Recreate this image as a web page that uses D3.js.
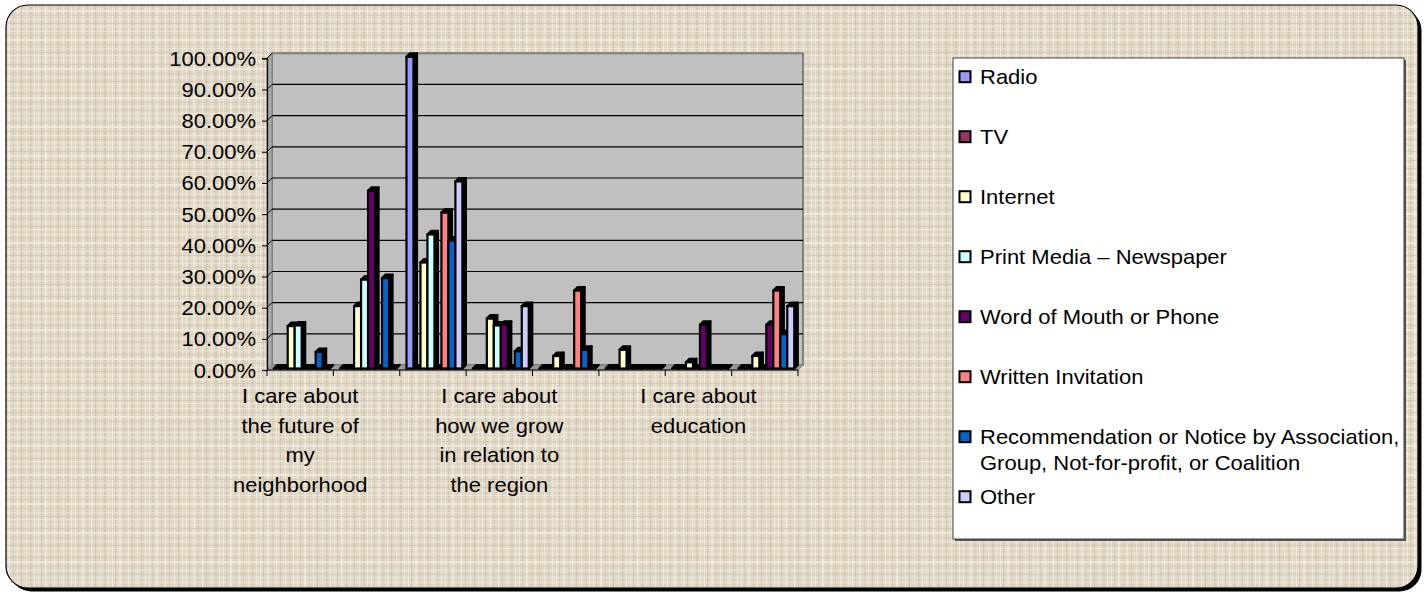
<!DOCTYPE html>
<html><head><meta charset="utf-8">
<script src="https://cdn.jsdelivr.net/npm/d3@7/dist/d3.min.js"></script>
<style>html,body{margin:0;padding:0;background:#fff;}svg{display:block;font-family:"Liberation Sans",Arial,sans-serif;}</style>
</head><body>
<script>
// ---- data ----
const categoryLabels = [
  "I care about the future of my neighborhood", "", "",
  "I care about how we grow in relation to the region", "", "",
  "I care about education", ""
];
const labelLines = [
  ["I care about","the future of","my","neighborhood"], [], [],
  ["I care about","how we grow","in relation to","the region"], [], [],
  ["I care about","education"], []
];
const seriesNames = [
  "Radio", "TV", "Internet", "Print Media – Newspaper", "Word of Mouth or Phone",
  "Written Invitation", "Recommendation or Notice by Association, Group, Not-for-profit, or Coalition", "Other"
];
const legendLines = [
  ["Radio"], ["TV"], ["Internet"], ["Print Media – Newspaper"], ["Word of Mouth or Phone"],
  ["Written Invitation"], ["Recommendation or Notice by Association,", "Group, Not-for-profit, or Coalition"], ["Other"]
];
const seriesColors = ["#9999FF","#993366","#FFFFCC","#CCFFFF","#660066","#FF8080","#0066CC","#CCCCFF"];
const radio      = [0, 0, 1.00, 0, 0, 0, 0, 0];
const tv         = [0, 0, 0, 0, 0, 0, 0, 0];
const internet   = [0.136, 0.20, 0.34, 0.16, 0.04, 0.06, 0.02, 0.04];
const printMedia = [0.138, 0.285, 0.43, 0.138, 0, 0, 0, 0];
const wordMouth  = [0, 0.57, 0, 0.14, 0, 0, 0.14, 0.14];
const written    = [0, 0, 0.50, 0, 0.25, 0, 0, 0.25];
const recommend  = [0.053, 0.29, 0.41, 0.055, 0.06, 0, 0, 0.11];
const other      = [0, 0, 0.60, 0.20, 0, 0, 0, 0.20];
const seriesValues = [radio, tv, internet, printMedia, wordMouth, written, recommend, other];
const yTicks = [0,0.1,0.2,0.3,0.4,0.5,0.6,0.7,0.8,0.9,1.0];

// ---- layout ----
const W = 1426, H = 597;
const FS = 20, SX = 1.1;
const svg = d3.select("body").append("svg").attr("width", W).attr("height", H);
const defs = svg.append("defs");

// linen-like texture (two overlaid patterns of different sizes)
const patA = defs.append("pattern").attr("id","linenA").attr("patternUnits","userSpaceOnUse").attr("width",37).attr("height",37);
const vLines = [[1,"#F4EFE5",1],[4,"#CDC2AC",1],[8,"#F1ECE1",2],[13,"#D1C6B0",1],[17,"#F5F0E6",1],[21,"#CAC0A9",1],[26,"#F2EDE2",1],[30,"#D3C9B3",2],[34,"#F4EFE4",1]];
vLines.forEach(([p,c,w]) => patA.append("rect").attr("x",p).attr("y",0).attr("width",w).attr("height",37).attr("fill",c).attr("opacity",0.75));
const patB = defs.append("pattern").attr("id","linenB").attr("patternUnits","userSpaceOnUse").attr("width",29).attr("height",29);
const hLines = [[2,"#F3EEE3",1],[6,"#CEC3AD",1],[10,"#F5F1E7",2],[15,"#D0C5AF",1],[19,"#F2EDE2",1],[23,"#CBC0AA",1],[26,"#F4EFE5",1]];
hLines.forEach(([p,c,w]) => patB.append("rect").attr("x",0).attr("y",p).attr("width",29).attr("height",w).attr("fill",c).attr("opacity",0.6));
const clip = defs.append("clipPath").attr("id","frameClip");
clip.append("rect").attr("x",6).attr("y",5).attr("width",1412).attr("height",583).attr("rx",22);

// frame
svg.append("rect").attr("x",9.5).attr("y",8.5).attr("width",1412).attr("height",583).attr("rx",22).attr("fill","#000");
svg.append("rect").attr("x",6).attr("y",5).attr("width",1412).attr("height",583).attr("rx",22).attr("fill","#E0D7C4");
svg.append("rect").attr("x",6).attr("y",5).attr("width",1412).attr("height",583).attr("clip-path","url(#frameClip)").attr("fill","url(#linenA)");
svg.append("rect").attr("x",6).attr("y",5).attr("width",1412).attr("height",583).attr("clip-path","url(#frameClip)").attr("fill","url(#linenB)");
svg.append("rect").attr("x",6).attr("y",5).attr("width",1412).attr("height",583).attr("rx",22)
  .attr("fill","none").attr("stroke","#000").attr("stroke-width",1.2);

// scales
const X0 = 267, X1 = 798, Y0 = 370, Y1 = 58.3, D = 5;
const x = d3.scaleBand().domain(d3.range(categoryLabels.length)).range([X0, X1]).paddingInner(0).paddingOuter(0);
const xs = d3.scaleBand().domain(d3.range(seriesNames.length)).range([0, x.bandwidth()]).paddingInner(0).paddingOuter(0.75);
const y = d3.scaleLinear().domain([0,1]).range([Y0, Y1]);

const plot = svg.append("g");
// back wall
plot.append("rect").attr("x",X0+D).attr("y",y(1)-D).attr("width",X1-X0).attr("height",y(0)-y(1))
  .attr("fill","#C0C0C0").attr("stroke","#808080").attr("stroke-width",2);
// side wall
plot.append("polygon").attr("points",[[X0,y(1)],[X0+D,y(1)-D],[X0+D,y(0)-D],[X0,y(0)]].join(" "))
  .attr("fill","#A8A8A8").attr("stroke","#808080").attr("stroke-width",1);
// floor
plot.append("polygon").attr("points",[[X0,y(0)],[X0+D,y(0)-D],[X1+D,y(0)-D],[X1,y(0)]].join(" "))
  .attr("fill","#9A9A9A").attr("stroke","#808080").attr("stroke-width",1);
// gridlines
yTicks.filter(t => t > 0).forEach(t => {
  plot.append("line").attr("x1",X0+D).attr("x2",X1+D).attr("y1",y(t)-D).attr("y2",y(t)-D)
    .attr("stroke", t===1 ? "#808080" : "#000").attr("stroke-width",1.2);
  plot.append("line").attr("x1",X0).attr("x2",X0+D).attr("y1",y(t)).attr("y2",y(t)-D)
    .attr("stroke","#000").attr("stroke-width",1);
});

// bars
const ox = 1.5, oy = -1.5, d = 3.5, SW = 2.2;
const bars = plot.append("g");
categoryLabels.forEach((c, ci) => {
  seriesNames.forEach((s, si) => {
    const v = seriesValues[si][ci];
    const col = seriesColors[si];
    const bx = x(ci) + xs(si) + ox, w = xs.bandwidth();
    const yt = y(v) + oy, yb = y(0) + oy;
    const g = bars.append("g");
    g.append("polygon").attr("points",[[bx+w,yt],[bx+w+d,yt-d],[bx+w+d,yb-d],[bx+w,yb]].join(" "))
      .attr("fill", "#000").attr("stroke","#000").attr("stroke-width",SW).attr("stroke-linejoin","round");
    g.append("polygon").attr("points",[[bx,yt],[bx+d,yt-d],[bx+w+d,yt-d],[bx+w,yt]].join(" "))
      .attr("fill", "#000").attr("stroke","#000").attr("stroke-width",SW).attr("stroke-linejoin","round");
    g.append("rect").attr("x",bx).attr("y",yt).attr("width",w).attr("height",Math.max(0,yb-yt))
      .attr("fill",col).attr("stroke","#000").attr("stroke-width",SW);
  });
});

// y axis
const yAxis = d3.axisLeft(y).tickValues(yTicks).tickFormat(d3.format(".2%")).tickSize(5).tickPadding(6);
const ya = svg.append("g").attr("transform",`translate(${X0},0)`).call(yAxis);
ya.select(".domain").attr("stroke","#000").attr("stroke-width",1.2);
ya.selectAll(".tick line").attr("stroke","#000").attr("stroke-width",1);
ya.selectAll(".tick text").attr("font-size",FS).attr("font-family","Liberation Sans, Arial, sans-serif")
  .attr("fill","#000").attr("dy","0.35em").attr("transform",`scale(${SX},1)`).attr("x",-11/SX);

// x axis
const xa = svg.append("g").attr("transform",`translate(0,${Y0})`);
xa.append("line").attr("x1",X0).attr("x2",X1).attr("stroke","#000").attr("stroke-width",1.2);
d3.range(categoryLabels.length+1).forEach(i => {
  const xx = i < categoryLabels.length ? x(i) : X1;
  xa.append("line").attr("x1",xx).attr("x2",xx).attr("y1",0).attr("y2",6).attr("stroke","#000").attr("stroke-width",1);
});
labelLines.forEach((lines, ci) => {
  lines.forEach((ln, li) => {
    svg.append("text").attr("transform",`translate(${x(ci)+x.bandwidth()/2},${396+li*29.5}) scale(${SX},1)`)
      .attr("text-anchor","middle").attr("dy","0.35em").attr("font-size",FS).attr("fill","#000").text(ln);
  });
});

// legend
const LX = 953, LY = 58, LW = 451, LH = 481;
svg.append("rect").attr("x",LX+2).attr("y",LY+2).attr("width",LW).attr("height",LH).attr("fill","#555");
svg.append("rect").attr("x",LX).attr("y",LY).attr("width",LW).attr("height",LH).attr("fill","#fff")
  .attr("stroke","#444").attr("stroke-width",1);
legendLines.forEach((lines, i) => {
  const cy = 76.7 + i*60;
  svg.append("rect").attr("x",959.5).attr("y",cy-5.5).attr("width",11).attr("height",11)
    .attr("fill",seriesColors[i]).attr("stroke","#000").attr("stroke-width",2);
  lines.forEach((ln, li) => {
    svg.append("text").attr("transform",`translate(980,${cy + li*26.7}) scale(${SX},1)`)
      .attr("dy","0.35em").attr("font-size",FS).attr("fill","#000").text(ln);
  });
});
</script>
</body></html>
